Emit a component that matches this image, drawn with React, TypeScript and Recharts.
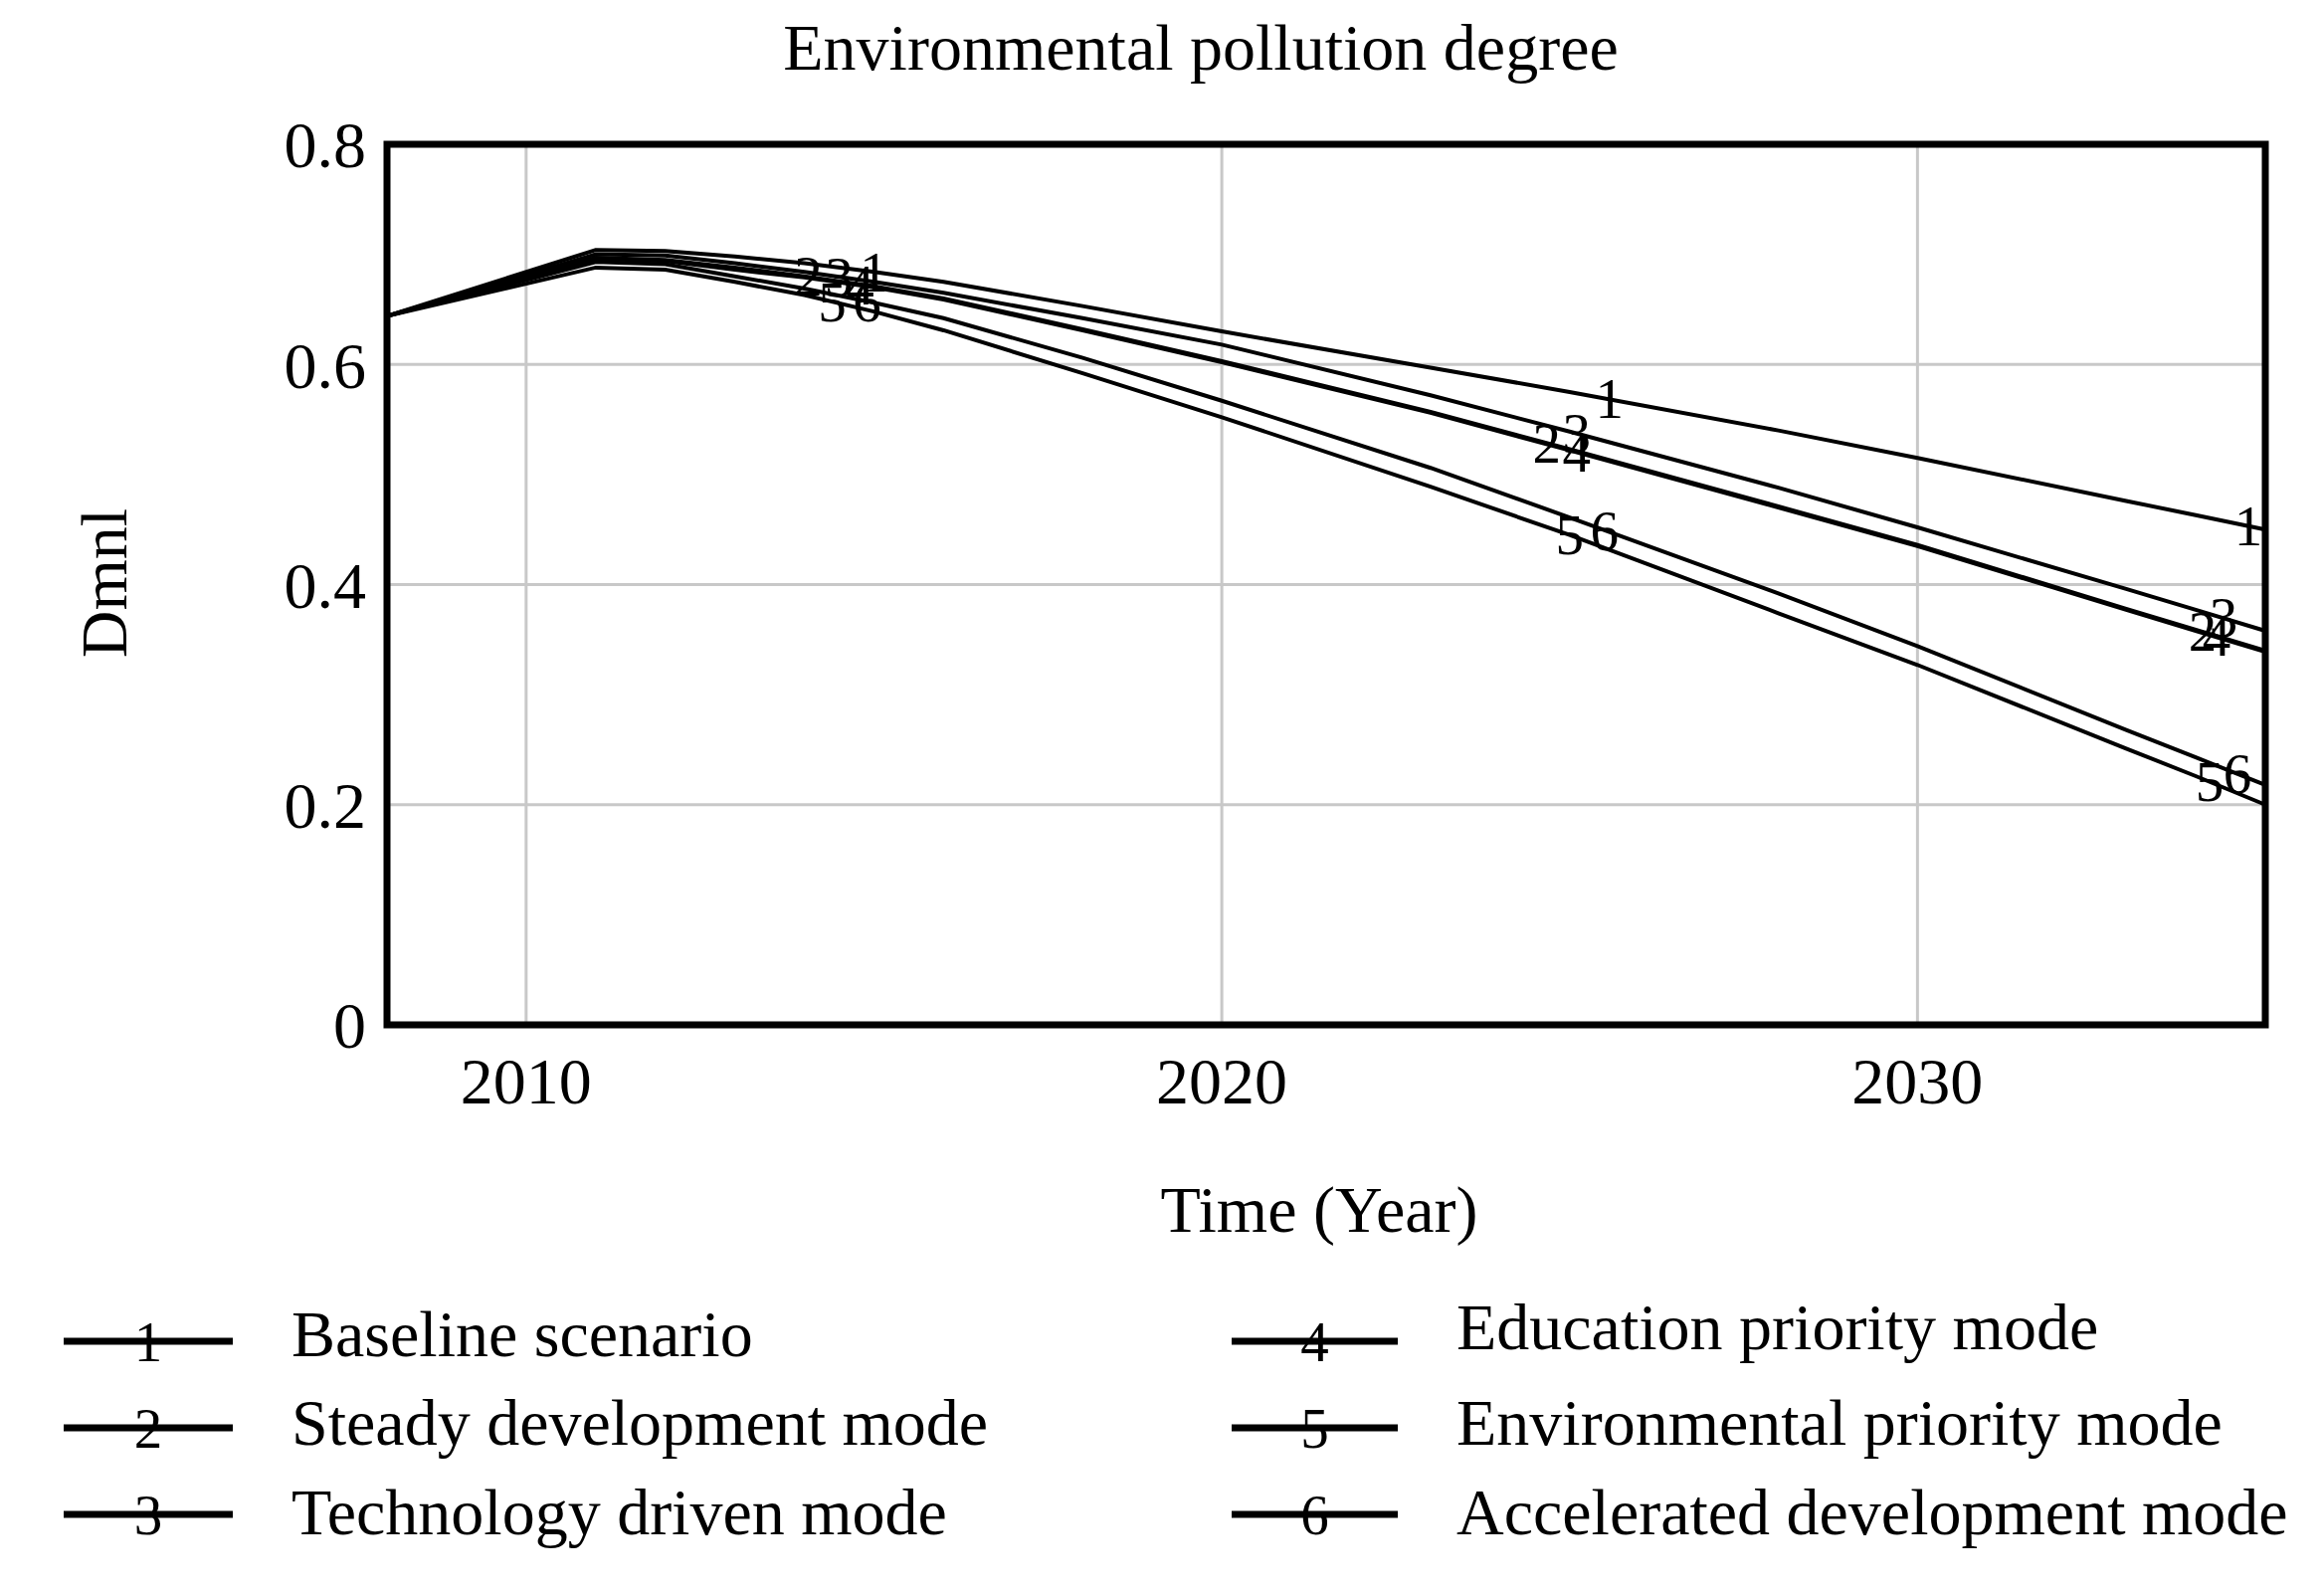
import { LineChart, Line, XAxis, YAxis, CartesianGrid, ReferenceArea, Label } from 'recharts'

const years = [2008, 2011, 2012, 2013, 2014, 2015, 2016, 2018, 2020, 2023, 2025, 2028, 2030, 2033, 2034, 2035]

const baselineScenario = [0.644, 0.704, 0.703, 0.698, 0.692, 0.684, 0.675, 0.653, 0.63, 0.597, 0.575, 0.54, 0.515, 0.476, 0.463, 0.45]
const steadyDevelopment = [0.644, 0.697, 0.695, 0.688, 0.68, 0.671, 0.66, 0.632, 0.603, 0.557, 0.523, 0.471, 0.436, 0.378, 0.359, 0.34]
const technologyDriven = [0.644, 0.7, 0.699, 0.692, 0.684, 0.675, 0.665, 0.642, 0.618, 0.572, 0.539, 0.488, 0.452, 0.396, 0.377, 0.358]
const educationPriority = [0.644, 0.696, 0.694, 0.686, 0.679, 0.67, 0.659, 0.631, 0.602, 0.556, 0.522, 0.47, 0.435, 0.377, 0.358, 0.339]
const environmentalPriority = [0.644, 0.688, 0.686, 0.675, 0.663, 0.648, 0.631, 0.592, 0.552, 0.489, 0.445, 0.374, 0.327, 0.251, 0.226, 0.2]
const acceleratedDevelopment = [0.644, 0.693, 0.691, 0.68, 0.669, 0.656, 0.642, 0.606, 0.567, 0.506, 0.461, 0.392, 0.344, 0.268, 0.243, 0.218]

const xTicks = [2010, 2020, 2030]
const yTicks = [0, 0.2, 0.4, 0.6, 0.8]

const series = [
	{ key: 's1', name: 'Baseline scenario', values: baselineScenario },
	{ key: 's2', name: 'Steady development mode', values: steadyDevelopment },
	{ key: 's3', name: 'Technology driven mode', values: technologyDriven },
	{ key: 's4', name: 'Education priority mode', values: educationPriority },
	{ key: 's5', name: 'Environmental priority mode', values: environmentalPriority },
	{ key: 's6', name: 'Accelerated development mode', values: acceleratedDevelopment },
]

const data = years.map((year, i) => {
	const row: Record<string, number> = { year }
	series.forEach((s) => {
		row[s.key] = s.values[i]
	})
	return row
})

const FONT = '"Liberation Serif", "Times New Roman", serif'

// where the curve numbers sit, Vensim style: [year of point, dx, dy]
const labelSpots: [number, number, number][][] = [
	[[2015, 0, 0], [2025, 40, 7], [2035, -17, -4]],
	[[2014, 4, 0], [2025, -23, -6], [2034, 7, 2]],
	[[2014, 35, 5], [2025, 7, 2], [2034, 28, 8]],
	[[2015, -14, -2], [2025, 7, 2], [2034, 21, 6]],
	[[2014, 28, 7], [2025, 0, 0], [2034, 14, 6]],
	[[2015, -7, -1], [2025, 35, 13], [2035, -28, -11]],
]

const makeDot = (seriesIndex: number) => (props: any) => {
	const { cx, cy, payload, index } = props
	const spot = labelSpots[seriesIndex].find(([year]) => year === payload?.year)
	if (!spot || cx == null || cy == null) return <g key={`d-${seriesIndex}-${index}`} />
	return (
		<text
			key={`d-${seriesIndex}-${index}`}
			x={cx + spot[1]}
			y={cy + spot[2]}
			textAnchor='middle'
			dominantBaseline='central'
			fontFamily={FONT}
			fontSize={57}
			fill='#000'
		>
			{seriesIndex + 1}
		</text>
	)
}

const legendCols = [
	{ x1: 56, x2: 226, textX: 285 },
	{ x1: 1230, x2: 1397, textX: 1456 },
]
const legendRowY = [80, 167, 254]
const legendTextDy = [
	[15, 17, 20],
	[8, 17, 20],
]

const Legendary = () => (
	<svg width={2320} height={320} style={{ position: 'absolute', left: 0, top: 1260 }}>
		{series.map((s, i) => {
			const col = Math.floor(i / 3)
			const row = i % 3
			const c = legendCols[col]
			const y = legendRowY[row]
			return (
				<g key={s.key}>
					<line x1={c.x1} x2={c.x2} y1={y} y2={y} stroke='#000' strokeWidth={7} />
					<text
						x={(c.x1 + c.x2) / 2}
						y={y}
						textAnchor='middle'
						dominantBaseline='central'
						fontFamily={FONT}
						fontSize={57}
						fill='#000'
					>
						{i + 1}
					</text>
					<text x={c.textX} y={y + legendTextDy[col][row]} fontFamily={FONT} fontSize={66} fill='#000'>
						{s.name}
					</text>
				</g>
			)
		})}
	</svg>
)

const App = () => {
	return (
		<div style={{ position: 'relative', width: 2320, height: 1585, background: '#fff' }}>
			<div
				style={{
					position: 'absolute',
					left: 0,
					top: 7,
					width: 2398,
					textAlign: 'center',
					fontFamily: FONT,
					fontSize: 66,
					lineHeight: '66px',
					whiteSpace: 'nowrap',
				}}
			>
				Environmental pollution degree
			</div>
			<LineChart width={2320} height={1260} data={data} margin={{ top: 137, right: 51, bottom: 0, left: 0 }}>
				<CartesianGrid stroke='#c8c8c8' strokeWidth={3} />
				<XAxis
					dataKey='year'
					type='number'
					domain={[2008, 2035]}
					ticks={xTicks}
					height={238}
					axisLine={false}
					tickLine={false}
					tickSize={0}
					tickMargin={32}
					tick={{ fontFamily: FONT, fontSize: 66, fill: '#000' }}
				>
					<Label
						content={() => (
							<text x={1318} y={1230} textAnchor='middle' fontFamily={FONT} fontSize={66} fill='#000'>
								Time (Year)
							</text>
						)}
					/>
				</XAxis>
				<YAxis
					type='number'
					domain={[0, 0.8]}
					ticks={yTicks}
					width={381}
					axisLine={false}
					tickLine={false}
					tickSize={0}
					tickMargin={21}
					tick={{ fontFamily: FONT, fontSize: 66, fill: '#000' }}
				>
					<Label
						content={() => (
							<text
								x={96}
								y={578}
								transform='rotate(-90 96 578)'
								textAnchor='middle'
								dominantBaseline='central'
								fontFamily={FONT}
								fontSize={66}
								fill='#000'
							>
								Dmnl
							</text>
						)}
					/>
				</YAxis>
				{series.map((s, i) => (
					<Line
						key={s.key}
						dataKey={s.key}
						name={s.name}
						type='linear'
						stroke='#000'
						strokeWidth={4}
						dot={makeDot(i)}
						activeDot={false}
						isAnimationActive={false}
					/>
				))}
				<ReferenceArea x1={2008} x2={2035} y1={0} y2={0.8} fill='none' stroke='#000' strokeWidth={7} ifOverflow='visible' />
			</LineChart>
			<Legendary />
		</div>
	)
}

export default App
